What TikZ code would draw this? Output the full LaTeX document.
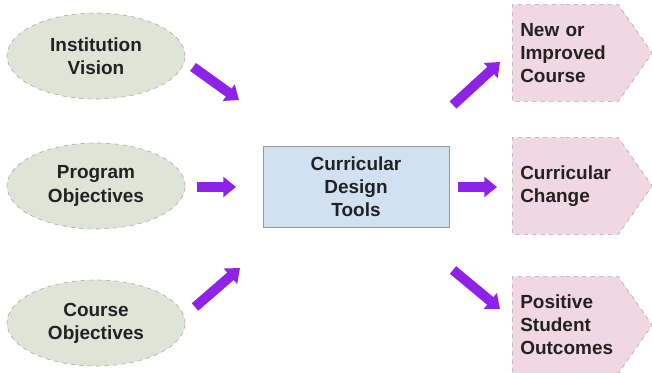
\documentclass[tikz,border=0pt]{standalone}
\usepackage{fontspec}
\setmainfont{Liberation Sans}
\usetikzlibrary{arrows.meta,positioning,calc,shapes.geometric,shapes.symbols}

\definecolor{sage}{RGB}{222,229,214}
\definecolor{paleblue}{RGB}{210,225,242}
\definecolor{palepink}{RGB}{240,215,225}
\definecolor{violet}{RGB}{142,34,232}
\definecolor{ink}{RGB}{34,34,34}

\begin{document}
\begin{tikzpicture}[x=0.025cm, y=-0.025cm,
  every node/.style={font=\bfseries\fontsize{13.5}{16.5}\selectfont, text=ink},
  goal/.style={ellipse, draw=gray!70, dashed, fill=sage, minimum width=4.45cm, minimum height=2.15cm, align=center},
  tool/.style={rectangle, draw=gray!80, fill=paleblue, minimum width=4.65cm, minimum height=2.02cm, align=center},
  outcome/.style={signal, signal to=east, signal pointer angle=110, draw=gray!70, dashed, fill=palepink,
    text width=2.25cm, inner xsep=0.2cm, minimum height=2.42cm, align=left},
  arrow/.style={-{Triangle[length=9pt,width=14pt]}, line width=7pt, violet}
]
\useasboundingbox (0,0) rectangle (652,373);

% inputs
\node[goal] (iv) at (96,56) {Institution\\Vision};
\node[goal] (po) at (96,186) {Program\\Objectives};
\node[goal] (co) at (96,323) {Course\\Objectives};

% tools
\node[tool] (cdt) at (356,187) {Curricular\\Design\\Tools};

% outcomes
\node[outcome, anchor=west] (nic) at (512,53) {New or\\Improved\\Course};
\node[outcome, anchor=west] (cc) at (512,186) {Curricular\\Change};
\node[outcome, anchor=west] (pso) at (512,325) {Positive\\Student\\Outcomes};

% arrow ends
\coordinate (ivout) at (193,67);
\coordinate (ivin) at (239,100);
\coordinate (poout) at (197,187);
\coordinate (poin) at (236,187);
\coordinate (coout) at (195,307);
\coordinate (coin) at (240,268);
\coordinate (nicout) at (453,105);
\coordinate (nicin) at (500,62);
\coordinate (ccout) at (458,187);
\coordinate (ccin) at (497,187);
\coordinate (psoout) at (453,270);
\coordinate (psoin) at (500,309);

\draw[arrow] (ivout) -- (ivin);
\draw[arrow] (poout) -- (poin);
\draw[arrow] (coout) -- (coin);
\draw[arrow] (nicout) -- (nicin);
\draw[arrow] (ccout) -- (ccin);
\draw[arrow] (psoout) -- (psoin);
\end{tikzpicture}
\end{document}
